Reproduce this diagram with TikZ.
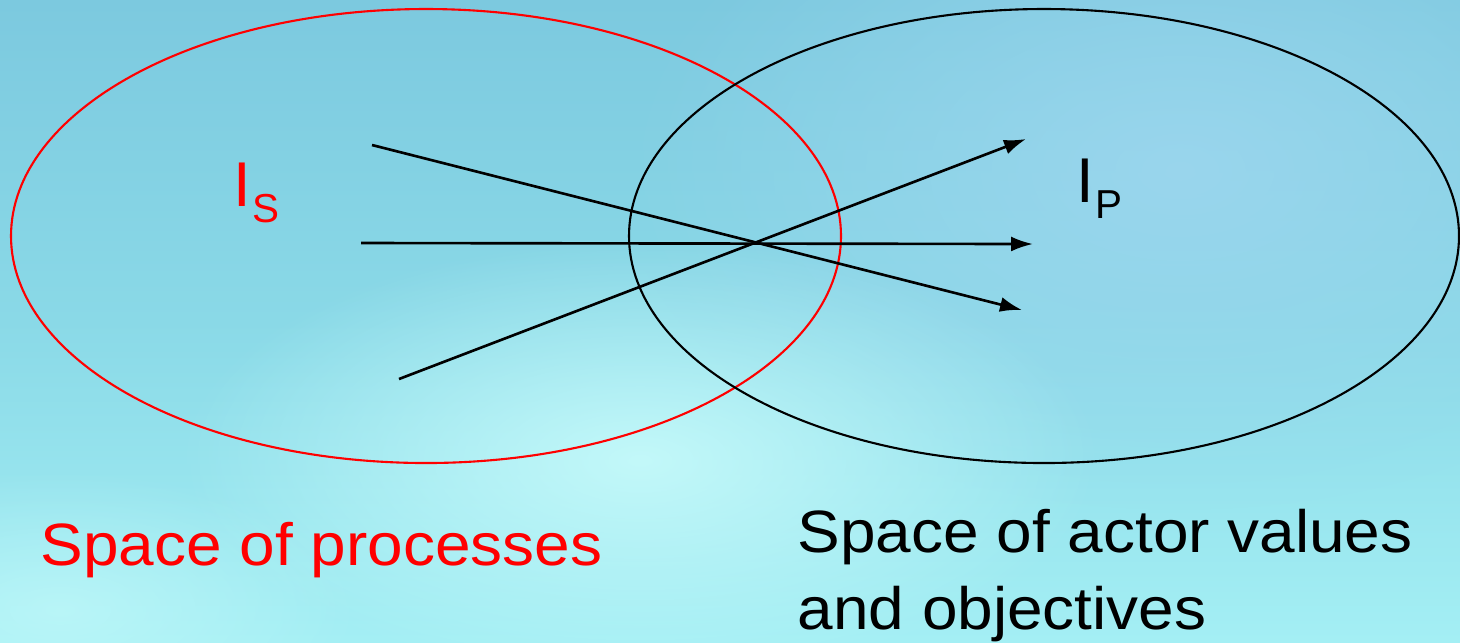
\documentclass[tikz,border=0pt]{standalone}
\usepackage{fontspec}
\setmainfont{Liberation Sans}
\usepackage{xcolor}
\usetikzlibrary{arrows.meta,shapes.geometric,fadings}

\definecolor{seatop}{HTML}{7CC9DF}
\definecolor{seamid}{HTML}{8AD9E7}
\definecolor{seabot}{HTML}{A4EFF4}
\definecolor{seaglow}{HTML}{C8FBFB}
\definecolor{skyblue}{HTML}{9CD6EE}

\tikzfading[name=softglow, inner color=transparent!0, outer color=transparent!100]

\newcommand{\wide}[1]{\scalebox{1.07}[1]{#1}}

\begin{document}
\begin{tikzpicture}[
  x=0.1mm, y=-0.1mm,
  space/.style={draw, ellipse, line width=0.6pt, minimum width=83mm, minimum height=45.4mm, inner sep=0pt},
  flow/.style={-{Latex[length=2.2mm, width=1.5mm]}, line width=0.75pt},
  label/.style={inner sep=0pt, font=\fontsize{17pt}{22pt}\selectfont},
  index/.style={inner sep=0pt, font=\fontsize{18pt}{20pt}\selectfont}
]
% background
\useasboundingbox (0,0) rectangle (1460,642);
\shade[top color=seatop, bottom color=seabot, middle color=seamid] (0,0) rectangle (1460,642);
\begin{scope}
  \clip (0,0) rectangle (1460,642);
  \fill[skyblue, path fading=softglow, opacity=0.9] (1180,170) ellipse (560 and 340);
  \fill[seaglow, path fading=softglow, opacity=0.9] (640,460) ellipse (460 and 220);
  \fill[seaglow, path fading=softglow, opacity=0.6] (60,610) ellipse (300 and 140);
\end{scope}

% the two spaces
\node[space, draw=red] (procs) at (426,236) {};
\node[space, draw=black] (values) at (1044,236) {};

\node[index, red, anchor=base west] (is) at (233,206) {I\raisebox{-1.6mm}{\fontsize{11.5pt}{12pt}\selectfont\kern0.3pt S}};
\node[index, anchor=base west] (ip) at (1076,202) {I\raisebox{-1.6mm}{\fontsize{11.5pt}{12pt}\selectfont\kern0.3pt P}};

% influences
\coordinate (a1) at (372,145);
\coordinate (b1) at (1022,310);
\coordinate (a2) at (361,243);
\coordinate (b2) at (1033,244);
\coordinate (a3) at (399,379);
\coordinate (b3) at (1026,139);
\draw[flow] (a1) -- (b1);
\draw[flow] (a2) -- (b2);
\draw[flow] (a3) -- (b3);

\node[label, red, anchor=base west] (sproc) at (40,565) {\wide{Space of processes}};
\node[label, anchor=base west] (sval) at (797,552) {\wide{Space of actor values}};
\node[label, anchor=base west] (sobj) at (797,629) {\wide{and objectives}};
\end{tikzpicture}
\end{document}
